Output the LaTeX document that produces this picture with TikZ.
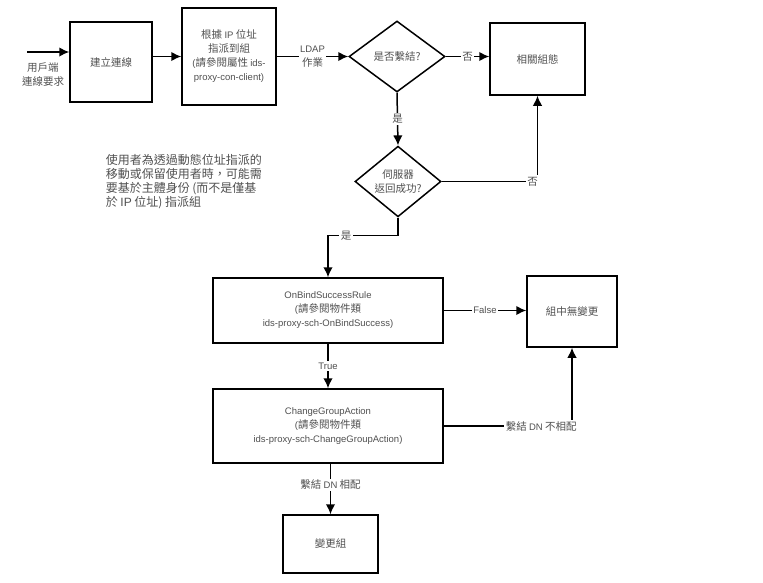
\documentclass[tikz,border=0pt]{standalone}
\usepackage{fontspec}
\setmainfont{Liberation Sans}
\newfontfamily\zh{Noto Sans CJK TC}
\newcommand{\la}[1]{{\fontsize{9.5}{14}\selectfont\rmfamily #1}}
\usepackage{tikz}
\usetikzlibrary{arrows,arrows.meta,shapes.geometric}
\definecolor{txtgray}{HTML}{505050}
\tikzset{%
    >={Latex[length=10pt,width=9.5pt]}
}

\begin{document}
\begin{tikzpicture}[x=1pt, y=-1pt, line width=1.5pt,
    every node/.style={text=txtgray, font=\fontsize{10.5}{14}\selectfont\zh, align=center, inner sep=1pt},
    box/.style={draw=black, rectangle, inner sep=0pt},
    decision/.style={draw=black, diamond, inner sep=0pt},
    lbl/.style={fill=white, inner sep=1.5pt}]
  \useasboundingbox (0,0) rectangle (763,582);

  % top row
  \coordinate (req) at (27,52);
  \node (reqlbl) at (43,75) {用戶端\\連線要求};
  \node[box, minimum width=82, minimum height=80] (conn) at (111,62) {建立連線};
  \node[box, minimum width=94, minimum height=97] (ipgrp) at (229,56.5)
    {根據 \la{IP} 位址\\指派到組\\\la{(}請參閱屬性 \la{ids-}\\\la{proxy-con-client)}};
  \node[decision, minimum width=96, minimum height=71] (isbind) at (397,56.5) {是否繫結?};
  \node[box, minimum width=95, minimum height=72] (relcfg) at (537.5,59) {相關組態};

  \draw[->] (req) -- (req -| conn.west);
  \draw[->] (conn.east |- ipgrp) -- (ipgrp.west);
  \draw[->] (ipgrp.east) -- node[lbl] {\la{LDAP}\\作業} (isbind.west);
  \draw[->] (isbind.east) -- node[lbl] {否} (isbind.east -| relcfg.west);

  % server reply
  \node[decision, minimum width=86, minimum height=63] (srvok) at (398,181.5) {伺服器\\返回成功?};
  \node[anchor=north west, align=left, font=\fontsize{12}{13.7}\selectfont\zh] (note) at (104,153)
    {使用者為透過動態位址指派的\\移動或保留使用者時，可能需\\要基於主體身份 (而不是僅基\\於 {\rmfamily IP} 位址) 指派組};

  \draw[->] (isbind.south) -- node[lbl] {是} (srvok.north);
  \draw[->] (srvok.east) -- node[lbl, pos=0.95] {否} (srvok.east -| relcfg.south) -- (relcfg.south);

  % rules
  \node[box, minimum width=230, minimum height=65] (onbind) at (328,310.5)
    {\la{OnBindSuccessRule}\\\la{(}請參閱物件類\\\la{ids-proxy-sch-OnBindSuccess)}};
  \node[box, minimum width=90, minimum height=71] (nochg) at (572,311.5) {組中無變更};
  \node[box, minimum width=230, minimum height=74] (chgact) at (328,426)
    {\la{ChangeGroupAction}\\\la{(}請參閱物件類\\\la{ids-proxy-sch-ChangeGroupAction)}};
  \node[box, minimum width=95, minimum height=58] (chggrp) at (330.5,544) {變更組};

  \draw[->] (srvok.south) -- ++(0,18) -| node[lbl, pos=0.37] {是} (onbind.north);
  \draw[->] (onbind.east) -- node[lbl] {\la{False}} (onbind.east -| nochg.west);
  \draw[->] (onbind.south) -- node[lbl] {\la{True}} (chgact.north);
  \draw[->] (chgact.east) -| node[lbl, pos=0.38] {繫結 \la{DN} 不相配} (nochg.south);
  \draw[->] (chgact.south -| chggrp) -- node[lbl, pos=0.42] {繫結 \la{DN} 相配} (chggrp.north);
\end{tikzpicture}
\end{document}
